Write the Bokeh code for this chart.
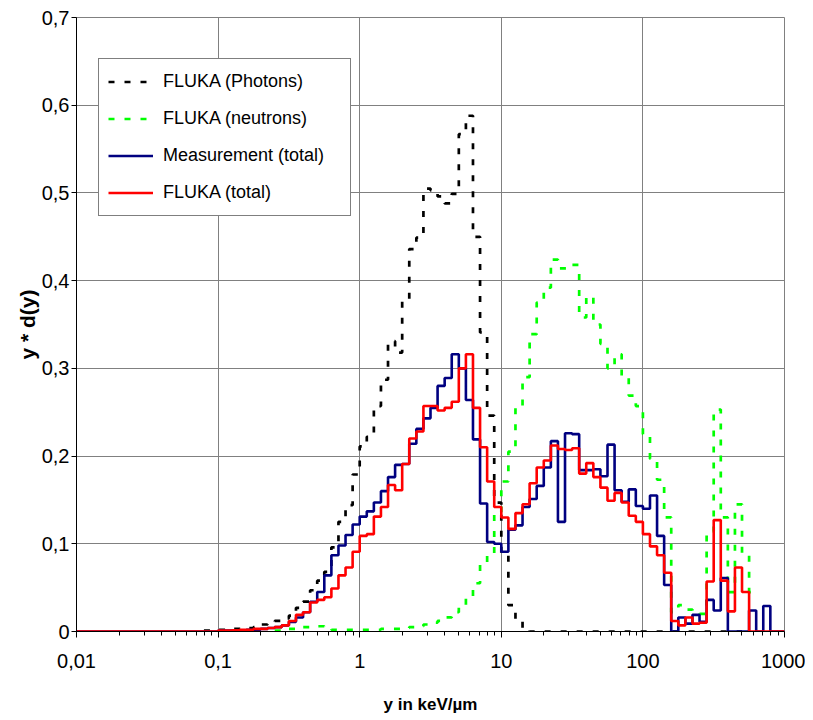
import numpy as np
from bokeh.plotting import figure
from bokeh.models import FixedTicker, CustomJSTickFormatter, Legend, LegendItem, Range1d
from bokeh.embed import file_html
from bokeh.resources import INLINE

# Histogram bins: 20 per decade, bin k spans 10**(k/20) .. 10**((k+1)/20) keV/um
BINS_PER_DECADE = 20

# FLUKA (Photons) - first bin index -22
photons_start = -22
photons = [0.001, 0.001, 0.002, 0.002, 0.003, 0.003, 0.004, 0.005, 0.008, 0.010,
           0.012, 0.015, 0.018, 0.027, 0.034, 0.047, 0.058, 0.068, 0.096, 0.125,
           0.144, 0.179, 0.211, 0.222, 0.257, 0.287, 0.331, 0.318, 0.378, 0.436,
           0.449, 0.505, 0.503, 0.496, 0.488, 0.499, 0.567, 0.588, 0.450, 0.341,
           0.246, 0.147, 0.089, 0.030, 0.013, 0.003, 0, 0, 0, 0,
           0, 0, 0, 0, 0, 0, 0, 0, 0, 0,
           0, 0, 0, 0, 0, 0, 0, 0, 0, 0,
           0, 0, 0, 0, 0, 0]

# FLUKA (neutrons) - first bin index -12
neutrons_start = -12
neutrons = [0.001, 0.002, 0.003, 0.0045, 0.005, 0.006, 0.006, 0.004, 0.002, 0.002,
            0.002, 0.002, 0.002, 0.002, 0.002, 0.003, 0.003, 0.003, 0.004, 0.005,
            0.006, 0.008, 0.010, 0.012, 0.016, 0.022, 0.030, 0.040, 0.055, 0.076,
            0.089, 0.136, 0.171, 0.205, 0.256, 0.290, 0.339, 0.375, 0.392, 0.424,
            0.414, 0.414, 0.418, 0.358, 0.382, 0.350, 0.328, 0.300, 0.316, 0.290,
            0.269, 0.257, 0.225, 0.197, 0.173, 0.130, 0.022, 0.030, 0.025, 0.022,
            0.020, 0.114, 0.253, 0.130, 0.045, 0.145, 0.089, 0.045]

# Measurement (total) - first bin index -40
measurement_start = -40
measurement = [0, 0, 0, 0, 0, 0, 0, 0, 0, 0,
               0, 0, 0, 0, 0, 0, 0, 0, 0, 0,
               0.001, 0.001, 0.001, 0.0015, 0.002, 0.002, 0.003, 0.004, 0.005, 0.007,
               0.011, 0.016, 0.022, 0.034, 0.045, 0.064, 0.087, 0.098, 0.110, 0.122,
               0.131, 0.137, 0.147, 0.160, 0.176, 0.190, 0.191, 0.214, 0.231, 0.243,
               0.255, 0.280, 0.289, 0.316, 0.300, 0.264, 0.219, 0.146, 0.102, 0.100,
               0.091, 0.116, 0.121, 0.142, 0.151, 0.166, 0.187, 0.217, 0.125, 0.226,
               0.225, 0.184, 0.184, 0.185, 0.177, 0.213, 0.161, 0.148, 0.162, 0.143,
               0.140, 0.155, 0.109, 0.053, 0, 0.016, 0.009, 0.019, 0.011, 0.036,
               0.024, 0.061, 0, 0, 0, 0.024, 0, 0.029, 0, 0]

# FLUKA (total) - first bin index -40
fluka_start = -40
fluka_total = [0, 0, 0, 0, 0, 0, 0, 0, 0, 0,
               0, 0, 0, 0, 0, 0, 0, 0, 0, 0,
               0.001, 0.001, 0.0015, 0.002, 0.002, 0.003, 0.003, 0.004, 0.005, 0.007,
               0.012, 0.019, 0.022, 0.033, 0.036, 0.039, 0.049, 0.064, 0.073, 0.091,
               0.109, 0.111, 0.131, 0.142, 0.167, 0.161, 0.191, 0.220, 0.228, 0.257,
               0.257, 0.252, 0.255, 0.262, 0.300, 0.316, 0.255, 0.210, 0.171, 0.142,
               0.130, 0.117, 0.135, 0.145, 0.169, 0.187, 0.195, 0.212, 0.208, 0.207,
               0.209, 0.180, 0.192, 0.176, 0.164, 0.149, 0.158, 0.147, 0.132, 0.125,
               0.111, 0.097, 0.087, 0.067, 0.012, 0.007, 0.016, 0.009, 0.010, 0.057,
               0.127, 0.058, 0.023, 0.073, 0.045, 0, 0, 0, 0, 0]

x_ticks = [0.01, 0.1, 1, 10, 100, 1000]
y_ticks = [0, 0.1, 0.2, 0.3, 0.4, 0.5, 0.6, 0.7]
series_labels = ["FLUKA (Photons)", "FLUKA (neutrons)", "Measurement (total)", "FLUKA (total)"]


def step_xy(start, vals):
    k = np.arange(start, start + len(vals) + 1)
    edges = 10.0 ** (k / BINS_PER_DECADE)
    ys = list(vals) + [vals[-1]]
    return edges, ys


FONT = "'Liberation Sans', Arial, sans-serif"

p = figure(width=805, height=716, x_axis_type="log",
           x_range=Range1d(0.01, 1000), y_range=Range1d(0, 0.7),
           output_backend="svg", toolbar_location=None,
           min_border_left=76, min_border_right=21, min_border_top=17, min_border_bottom=83)
p.background_fill_color = "white"
p.border_fill_color = "white"
p.outline_line_color = "#808080"
p.outline_line_width = 1

minor = [m * 10.0 ** e for e in range(-2, 3) for m in range(2, 10)]
xt = FixedTicker(ticks=x_ticks, minor_ticks=minor)
yt = FixedTicker(ticks=y_ticks, minor_ticks=[])
p.xaxis.ticker = xt
p.yaxis.ticker = yt
p.xgrid.ticker = xt
p.ygrid.ticker = yt
for g in (p.xgrid, p.ygrid):
    g.grid_line_color = "#808080"
    g.grid_line_width = 1

p.xaxis.formatter = CustomJSTickFormatter(code="""
const v = Number(tick.toPrecision(3));
return String(v).replace('.', ',');
""")
p.yaxis.formatter = CustomJSTickFormatter(code="""
if (Math.abs(tick) < 1e-9) { return '0'; }
return tick.toFixed(1).replace('.', ',');
""")

for ax in (p.xaxis, p.yaxis):
    ax.axis_line_color = "black"
    ax.axis_line_width = 1
    ax.major_tick_line_color = "black"
    ax.minor_tick_line_color = "black"
    ax.major_tick_in = 0
    ax.minor_tick_in = 0
    ax.minor_tick_out = 4
    ax.major_label_text_font = FONT
    ax.major_label_text_font_size = "20px"
    ax.major_label_text_color = "black"
    ax.axis_label_text_font = FONT
    ax.axis_label_text_font_style = "bold"
    ax.axis_label_text_color = "black"

p.xaxis.major_tick_out = 6
p.yaxis.major_tick_out = 5
p.xaxis.major_label_standoff = 16
p.yaxis.major_label_standoff = 2
p.xaxis.axis_label = "y in keV/µm"
p.xaxis.axis_label_text_font_size = "17px"
p.xaxis.axis_label_standoff = 24
p.yaxis.axis_label = "y * d(y)"
p.yaxis.axis_label_text_font_size = "21px"
p.yaxis.axis_label_standoff = 0

x, y = step_xy(photons_start, photons)
r_ph = p.step(x, y, mode="after", line_color="black", line_width=2.7, line_dash="6 10")
x, y = step_xy(neutrons_start, neutrons)
r_ne = p.step(x, y, mode="after", line_color="#00FF00", line_width=2.7, line_dash="6 10")
x, y = step_xy(measurement_start, measurement)
r_me = p.step(x, y, mode="after", line_color="#000080", line_width=2.6)
x, y = step_xy(fluka_start, fluka_total)
r_fl = p.step(x, y, mode="after", line_color="#FF0000", line_width=2.6)

legend = Legend(items=[LegendItem(label=series_labels[0], renderers=[r_ph]),
                       LegendItem(label=series_labels[1], renderers=[r_ne]),
                       LegendItem(label=series_labels[2], renderers=[r_me]),
                       LegendItem(label=series_labels[3], renderers=[r_fl])],
                location=(22, 415))
legend.border_line_color = "black"
legend.border_line_width = 1
legend.background_fill_color = "white"
legend.background_fill_alpha = 1
legend.label_text_font = FONT
legend.label_text_font_size = "18px"
legend.label_text_color = "black"
legend.glyph_width = 45
legend.glyph_height = 27
legend.label_height = 27
legend.label_width = 178
legend.label_standoff = 10
legend.spacing = 10
legend.padding = 9
legend.margin = 0
p.add_layout(legend, "center")

open("out.html", "w").write(file_html(p, INLINE))
